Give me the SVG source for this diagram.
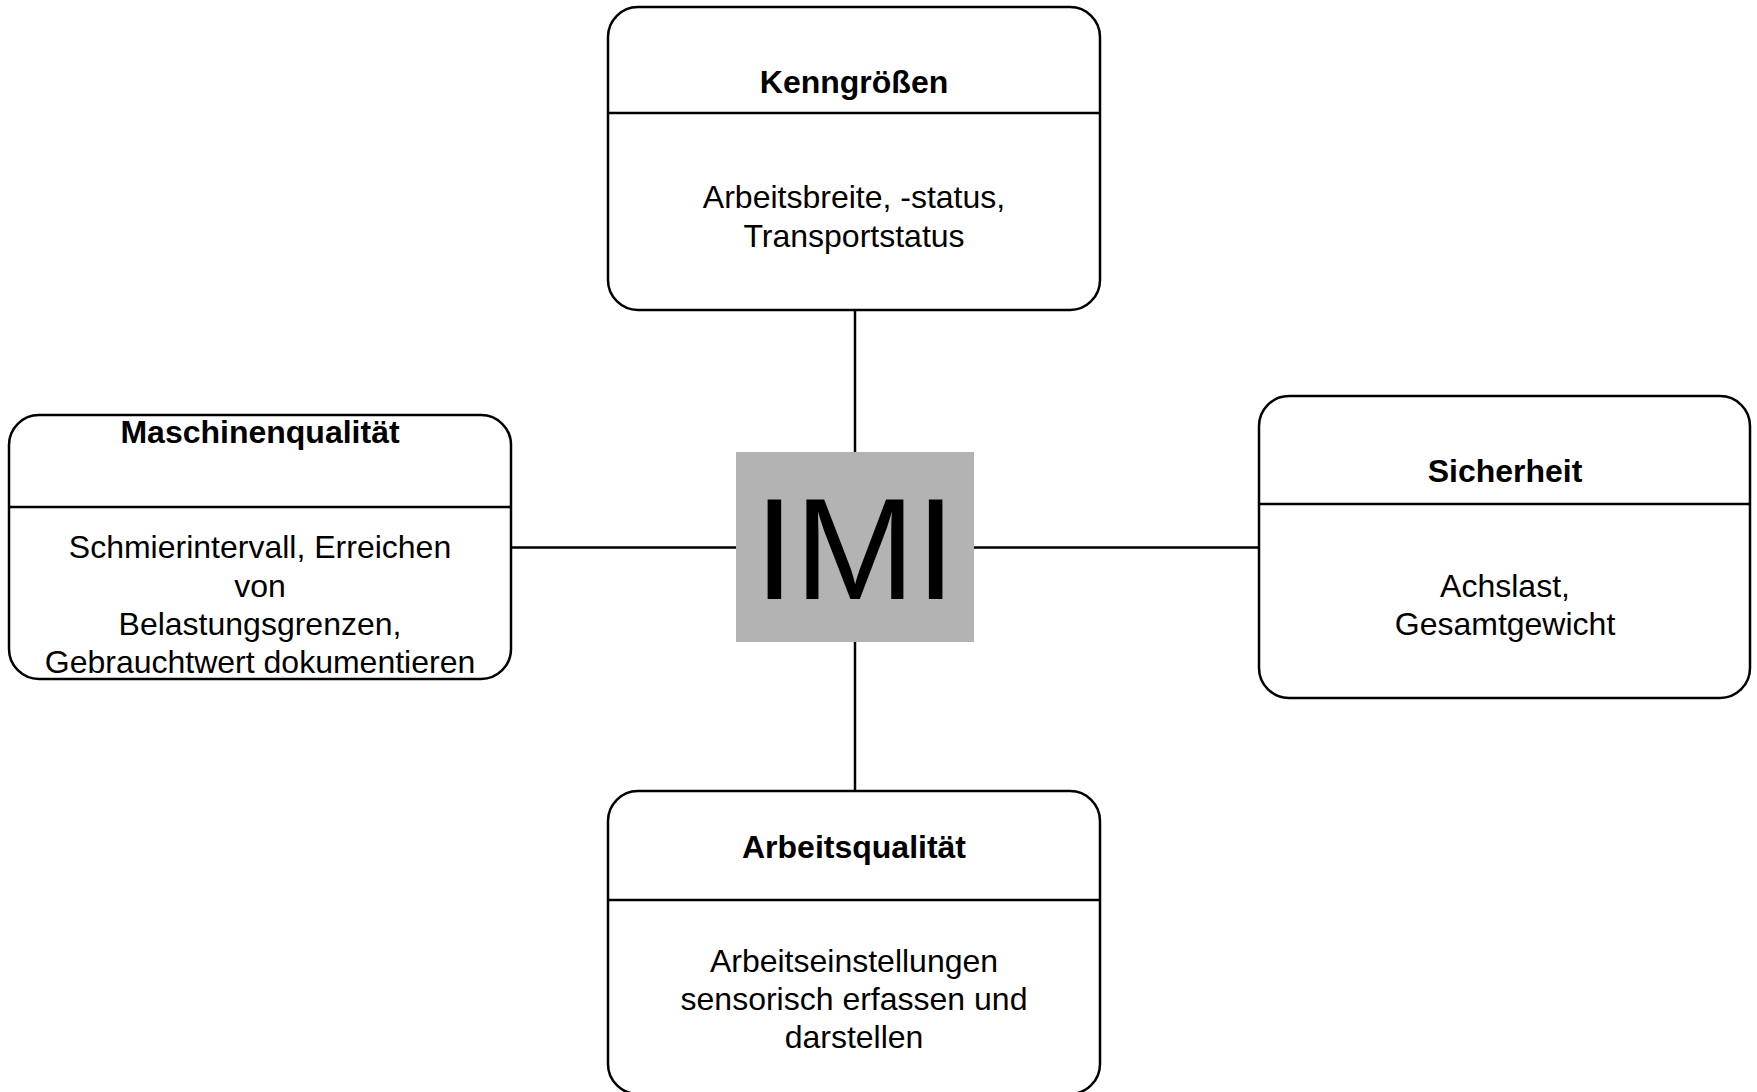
<svg xmlns="http://www.w3.org/2000/svg" width="1757" height="1092" viewBox="0 0 1757 1092">
<style>
.box{fill:#fff;stroke:#000;stroke-width:2.5}
.div{stroke:#000;stroke-width:2.5}
.conn{stroke:#000;stroke-width:2.5;fill:none}
.t{font-family:"Liberation Sans",Arial,sans-serif;font-size:32px;text-anchor:middle;fill:#000}
.b{font-weight:bold}
</style>
<rect width="1757" height="1092" fill="#fff"/>
<g id="connectors">
<line class="conn" x1="855" y1="310" x2="855" y2="452"/>
<line class="conn" x1="855" y1="642" x2="855" y2="791"/>
<line class="conn" x1="511" y1="547.5" x2="736" y2="547.5"/>
<line class="conn" x1="974" y1="547.5" x2="1259" y2="547.5"/>
</g>
<g id="imi">
<rect x="736" y="452" width="238" height="190" fill="#b3b3b3"/>
<text x="855" y="599" style="font-family:'Liberation Sans',Arial,sans-serif;font-size:145px;text-anchor:middle">IMI</text>
</g>
<g id="kenngroessen">
<rect class="box" x="608" y="7" width="492" height="303" rx="30"/>
<line class="div" x1="608" y1="113" x2="1100" y2="113"/>
<text class="t b" x="854" y="93">Kenngrößen</text>
<text class="t" x="854" y="208">Arbeitsbreite, -status,</text>
<text class="t" x="854" y="247">Transportstatus</text>
</g>
<g id="maschinenqualitaet">
<rect class="box" x="9" y="415" width="502" height="264" rx="30"/>
<line class="div" x1="9" y1="507" x2="511" y2="507"/>
<text class="t b" x="260" y="443">Maschinenqualität</text>
<text class="t" x="260" y="558">Schmierintervall, Erreichen</text>
<text class="t" x="260" y="597">von</text>
<text class="t" x="260" y="635">Belastungsgrenzen,</text>
<text class="t" x="260" y="673">Gebrauchtwert dokumentieren</text>
</g>
<g id="sicherheit">
<rect class="box" x="1259" y="396" width="491" height="302" rx="30"/>
<line class="div" x1="1259" y1="504" x2="1750" y2="504"/>
<text class="t b" x="1505" y="482">Sicherheit</text>
<text class="t" x="1505" y="597">Achslast,</text>
<text class="t" x="1505" y="635">Gesamtgewicht</text>
</g>
<g id="arbeitsqualitaet">
<rect class="box" x="608" y="791" width="492" height="303" rx="30"/>
<line class="div" x1="608" y1="900" x2="1100" y2="900"/>
<text class="t b" x="854" y="858">Arbeitsqualität</text>
<text class="t" x="854" y="972">Arbeitseinstellungen</text>
<text class="t" x="854" y="1010">sensorisch erfassen und</text>
<text class="t" x="854" y="1048">darstellen</text>
</g>
</svg>
